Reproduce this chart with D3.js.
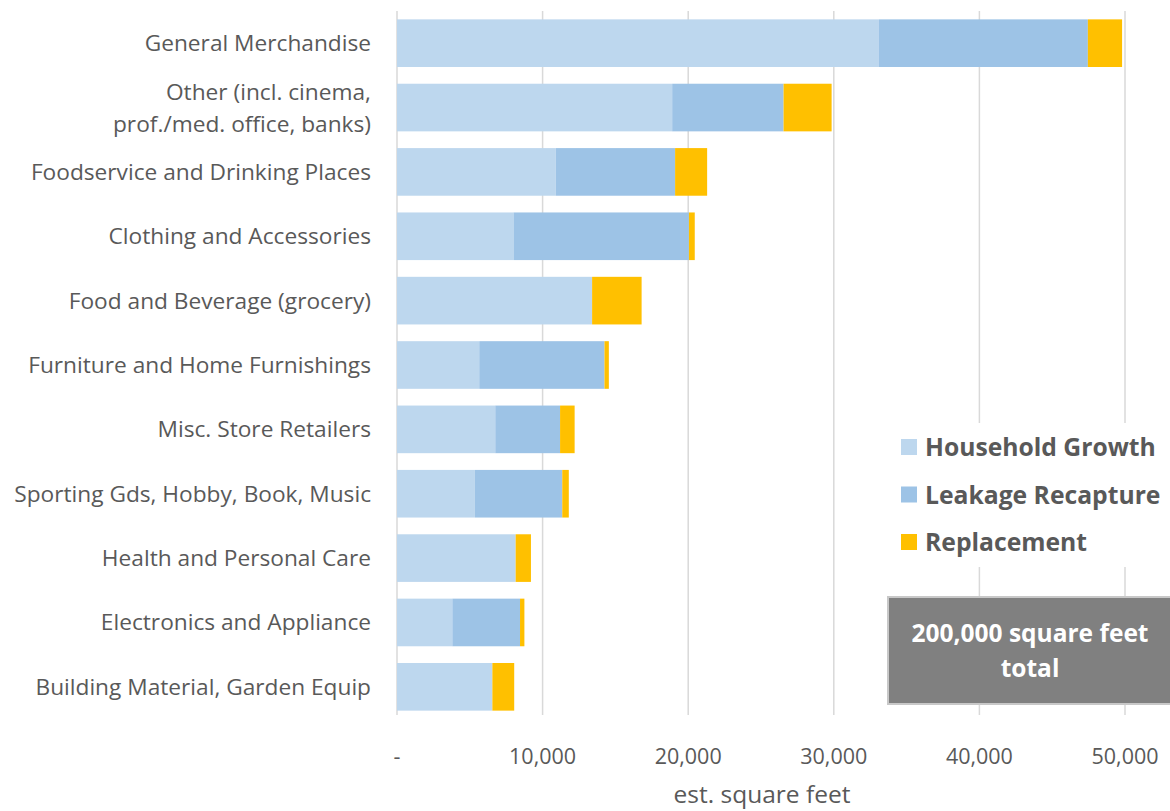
<!DOCTYPE html>
<html><head><meta charset="utf-8">
<script src="https://cdn.jsdelivr.net/npm/d3@7"></script>
<style>body{margin:0;background:#fff;} text{font-family:"Open Sans",sans-serif;}</style>
</head><body><svg id="c" width="1170" height="811"></svg>
<script>
const categories = ["General Merchandise","Other (incl. cinema,\nprof./med. office, banks)","Foodservice and Drinking Places","Clothing and Accessories","Food and Beverage (grocery)","Furniture and Home Furnishings","Misc. Store Retailers","Sporting Gds, Hobby, Book, Music","Health and Personal Care","Electronics and Appliance","Building Material, Garden Equip"];
const householdGrowth = [33100,18900,10900,8000,13400,5650,6750,5350,8150,3800,6550];
const leakageRecapture = [14350,7650,8200,12050,0,8600,4450,6000,0,4650,0];
const replacement = [2350,3300,2200,400,3400,300,1000,450,1050,300,1500];
const seriesNames = ["Household Growth","Leakage Recapture","Replacement"];
const seriesColors = ["#BDD7EE","#9DC3E6","#FFC000"];
const xTicks = [0,10000,20000,30000,40000,50000];
const totalNote = ["200,000 square feet","total"];

const svg = d3.select("#c");
const m = {l:397, r:1125, t:11, b:719};
const x = d3.scaleLinear().domain([0,50000]).range([m.l,m.r]);
const y = d3.scaleBand().domain(categories).range([m.t,m.b]).paddingInner(0.26).paddingOuter(0.13);

// gridlines
svg.append("g").selectAll("line").data(xTicks).join("line")
  .attr("x1",d=>x(d)).attr("x2",d=>x(d)).attr("y1",m.t).attr("y2",m.b-4)
  .attr("stroke","#d9d9d9").attr("stroke-width",1.5);

const rows = categories.map((c,i)=>({c, vals:[householdGrowth[i],leakageRecapture[i],replacement[i]]}));
const stack = d3.stack().keys([0,1,2]).value((d,k)=>d.vals[k])(rows);
svg.append("g").selectAll("g").data(stack).join("g").attr("fill",(d,i)=>seriesColors[i])
  .selectAll("rect").data(d=>d).join("rect")
  .attr("x",d=>x(d[0])).attr("width",d=>Math.max(0,x(d[1])-x(d[0])))
  .attr("y",d=>y(d.data.c)).attr("height",y.bandwidth());

// category labels
const lab = svg.append("g").selectAll("text").data(categories).join("text")
  .attr("text-anchor","end").attr("fill","#595959").attr("font-size",22.7)
  .attr("x",371).attr("y",d=>y(d)+y.bandwidth()/2);
lab.each(function(d){
  const lines=d.split("\n"); const t=d3.select(this);
  lines.forEach((ln,j)=>t.append("tspan").attr("x",371)
    .attr("dy", j===0 ? ((-(lines.length-1)/2)*32+8)+"px" : "32px").text(ln));
});

// x tick labels
const fmt = d3.format(",");
svg.append("g").selectAll("text").data(xTicks).join("text")
  .attr("x",d=>x(d)).attr("y",764).attr("text-anchor","middle")
  .attr("fill","#595959").attr("font-size",21.5)
  .text(d=>d===0?"-":fmt(d));
svg.append("text").attr("x",762).attr("y",803).attr("text-anchor","middle")
  .attr("fill","#595959").attr("font-size",24.5).text("est. square feet");

// legend
const lg = svg.append("g");
lg.append("rect").attr("x",893).attr("y",423).attr("width",277).attr("height",144).attr("fill","#fff");
seriesNames.forEach((s,i)=>{
  const cy = 447 + i*47.5;
  lg.append("rect").attr("x",901).attr("y",cy-8).attr("width",16).attr("height",16).attr("fill",seriesColors[i]);
  lg.append("text").attr("x",925).attr("y",cy+9).attr("fill","#595959").attr("font-size",24.7)
    .attr("font-weight","bold").text(s);
});

// total box
svg.append("rect").attr("x",888).attr("y",597).attr("width",285).attr("height",107)
  .attr("fill","#808080").attr("stroke","#c8c8c8").attr("stroke-width",2);
svg.append("g").selectAll("text").data(totalNote).join("text")
  .attr("x",1030).attr("y",(d,i)=>642+i*35).attr("text-anchor","middle")
  .attr("fill","#fff").attr("font-size",24.5).attr("font-weight","bold").text(d=>d);
</script></body></html>
